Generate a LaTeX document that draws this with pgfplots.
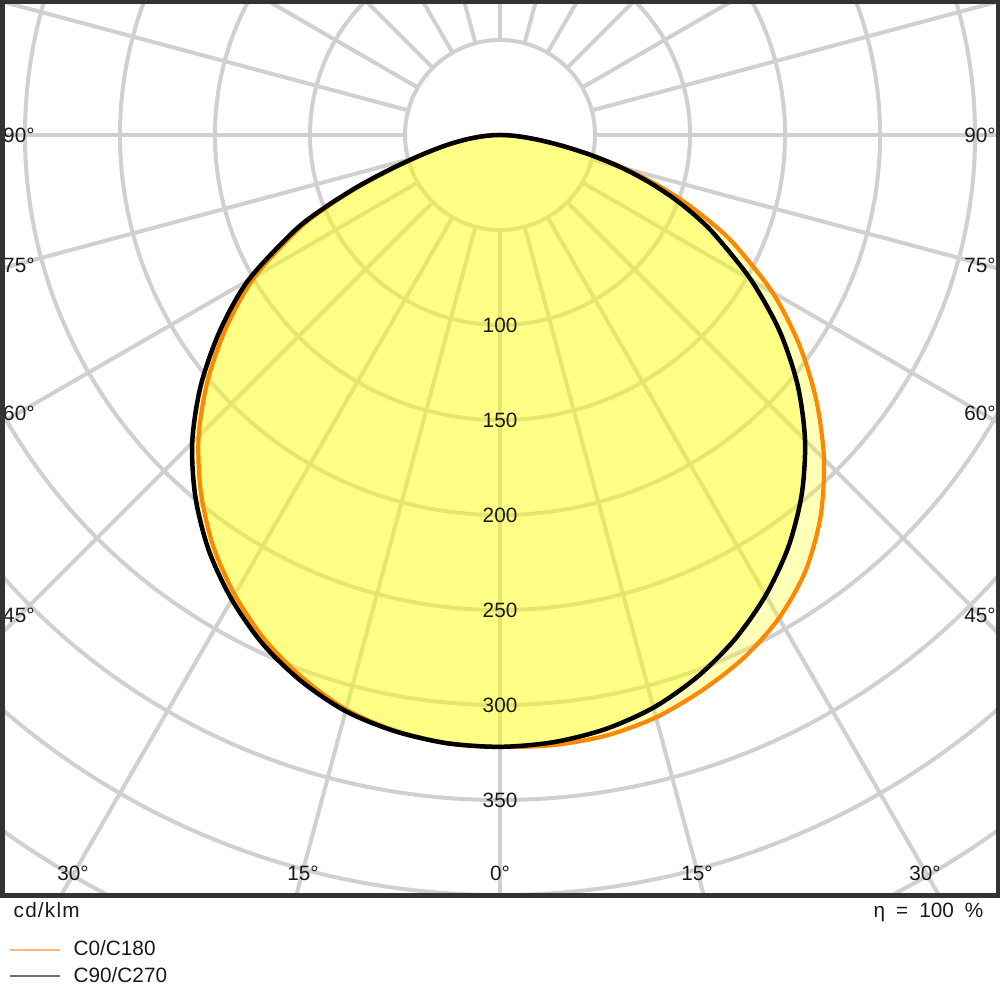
\documentclass[border=0pt]{standalone}
\usepackage{pgfplots}
\pgfplotsset{compat=1.18}
\usepackage{pgfplotstable}
\usepackage{fontspec}
\setmainfont{Liberation Sans}
\definecolor{gridc}{RGB}{208,208,208}
\definecolor{orangec}{RGB}{255,136,0}
\definecolor{framec}{RGB}{51,51,51}
\definecolor{legor}{RGB}{247,185,120}
\definecolor{leggr}{RGB}{110,110,110}
\definecolor{fillc}{RGB}{255,255,0}
\definecolor{txt}{RGB}{25,25,25}

% C0/C180 : polar angle a (deg, from +x; -90 = nadir), intensity r (cd/klm)
\pgfplotstableread{
a r
0 0
-2.5 5.2
-5 12.2
-7.5 21.7
-10 34.2
-12.5 50.2
-15 67.8
-17.5 85.7
-20 103.3
-22.5 120
-25 136.1
-30 165.5
-35 192.2
-40 217.3
-45 241.1
-50 262.4
-55 280.2
-60 293.6
-65 303.6
-70 311.0
-75 317.3
-80 321.0
-85 322.3
-90 322
-95 321.3
-100 318.3
-105 313
-110 304
-115 293
-120 279.3
-125 263.5
-130 245
-135 224.3
-140 200.8
-145 175.6
-150 149
-155 117
-157.5 98
-160 78.5
-162.5 60
-165 45.6
-167.5 34.8
-170 26
-172.5 18
-175 11.1
-177.5 5.1
-180 0
}\orangetab

% C90/C270
\pgfplotstableread{
a r
0 0
-2.5 5.2
-5 12.2
-7.5 21.5
-10 33.9
-12.5 49.3
-15 66
-17.5 81.8
-20 97.1
-22.5 111.5
-25 125.1
-30 152.5
-35 179.5
-40 204.4
-45 227
-50 247
-55 264.6
-60 279.7
-65 292.7
-70 303.5
-75 312
-80 317.6
-85 320.8
-90 322
-95 321.3
-100 318.6
-105 313.9
-110 305.9
-115 295.5
-120 282.3
-125 267.1
-130 249.3
-135 229.1
-140 205.7
-145 180.1
-150 153
-155 119.5
-157.5 100
-160 80
-162.5 61.5
-165 46.6
-167.5 35.3
-170 26
-172.5 18
-175 11.1
-177.5 5.1
-180 0
}\blacktab

\begin{document}
\begin{tikzpicture}[x=1cm,y=1cm,
  lab/.style={font=\fontsize{5.9}{7}\selectfont, text=txt, inner sep=0pt},
  gridline/.style={gridc, line width=0.4mm}]
\useasboundingbox (0,0) rectangle (10,10);
\begin{axis}[at={(0.02cm,1.04cm)}, anchor=south west,
  width=9.96cm, height=8.94cm, scale only axis,
  xmin=-262.1, xmax=262.1, ymin=-400.5, ymax=70,
  hide axis, clip=true, no markers]
  % grid circles
  \pgfplotsinvokeforeach{50,100,...,500}{
    \draw[gridline] (axis cs:0,0) circle[radius=#1];
  }
  % radial lines
  \pgfplotsinvokeforeach{0,15,...,345}{
    \draw[gridline] (axis cs:{50*cos(#1)},{50*sin(#1)}) -- (axis cs:{650*cos(#1)},{650*sin(#1)});
  }
  % fills
  \addplot[draw=none, fill=fillc, fill opacity=0.28, smooth, tension=0.5, data cs=polar] table[x=a,y=r] {\orangetab};
  \addplot[draw=none, fill=fillc, fill opacity=0.28, smooth, tension=0.5, data cs=polar] table[x=a,y=r] {\blacktab};
  % curves
  \addplot[orangec, line width=0.42mm, smooth, tension=0.5, line join=round, data cs=polar] table[x=a,y=r] {\orangetab};
  \addplot[black, line width=0.45mm, smooth, tension=0.5, line join=round, data cs=polar] table[x=a,y=r] {\blacktab};
  % radial value labels
  \node[lab] at (axis cs:0,-100) {100};
  \node[lab] at (axis cs:0,-150) {150};
  \node[lab] at (axis cs:0,-200) {200};
  \node[lab] at (axis cs:0,-250) {250};
  \node[lab] at (axis cs:0,-300) {300};
  \node[lab] at (axis cs:0,-350) {350};
  % angle labels bottom
  \node[lab] at (axis cs:0,-388.4) {0°};
  \node[lab] at (axis cs:103.7,-388.4) {15°};
  \node[lab] at (axis cs:223.7,-388.4) {30°};
  \node[lab] at (axis cs:-103.7,-388.4) {15°};
  \node[lab] at (axis cs:-224.7,-388.4) {30°};
  % angle labels sides
  \node[lab] at (axis cs:-253.2,0) {90°};
  \node[lab] at (axis cs:-253.2,-68.4) {75°};
  \node[lab] at (axis cs:-253.2,-146.3) {60°};
  \node[lab] at (axis cs:-253.2,-252.6) {45°};
  \node[lab] at (axis cs:252.6,0) {90°};
  \node[lab] at (axis cs:252.6,-68.4) {75°};
  \node[lab] at (axis cs:252.6,-146.3) {60°};
  \node[lab] at (axis cs:252.6,-252.6) {45°};
\end{axis}
\draw[framec, line width=0.5mm] (0.02,1.04) rectangle (9.98,9.98);
\node[lab, anchor=base west] at (0.13,0.82) {c\hspace{0.12mm}d\hspace{0.12mm}/\hspace{0.12mm}k\hspace{0.12mm}l\hspace{0.12mm}m};
\node[lab, anchor=base east] at (9.84,0.82) {η\hspace{1.1mm}=\hspace{1.1mm}100\hspace{1.1mm}\%};
\draw[legor, line width=0.15mm] (0.10,0.50) -- (0.60,0.50);
\node[lab, anchor=base west] at (0.73,0.44) {C0/C180};
\draw[leggr, line width=0.15mm] (0.10,0.24) -- (0.60,0.24);
\node[lab, anchor=base west] at (0.73,0.18) {C90/C270};
\end{tikzpicture}
\end{document}
